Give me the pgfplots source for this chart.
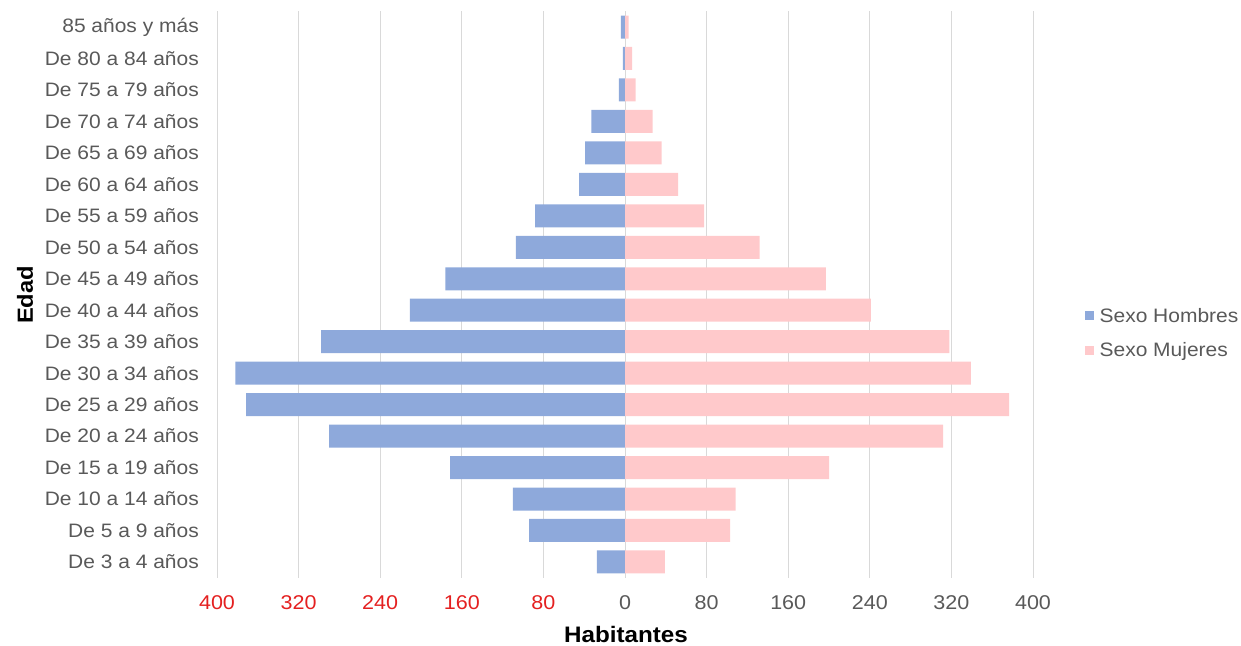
\documentclass[border=0pt]{standalone}
\usepackage{pgfplots}
\pgfplotsset{compat=1.18}
\usepackage{fontspec}
\setmainfont{Liberation Sans}[FakeStretch=1.08]
\definecolor{hombres}{RGB}{142,169,219}
\definecolor{mujeres}{RGB}{255,201,203}
\definecolor{txtgrey}{RGB}{89,89,89}
\definecolor{gridgrey}{RGB}{217,217,217}
\definecolor{negred}{RGB}{228,32,32}
\begin{document}
\begin{tikzpicture}
\path[use as bounding box] (0,0) rectangle (1241bp,646bp);
\begin{axis}[
  at={(217bp,68.3bp)}, anchor=south west,
  scale only axis, width=816bp, height=566.4bp,
  xmin=-400, xmax=400, ymin=-0.5, ymax=17.5,
  axis line style={draw=none},
  major tick length=0pt,
  xmajorgrids, grid style={gridgrey, line width=1bp},
  xtick={-400,-320,-240,-160,-80,0,80,160,240,320,400},
  xticklabels={\textcolor{negred}{400},\textcolor{negred}{320},\textcolor{negred}{240},\textcolor{negred}{160},\textcolor{negred}{80},0,80,160,240,320,400},
  xticklabel style={font=\fontsize{20}{24}\selectfont, text=txtgrey, anchor=center, yshift=-25bp},
  ytick={0,...,17},
  yticklabels={De 3 a 4 años,De 5 a 9 años,De 10 a 14 años,De 15 a 19 años,De 20 a 24 años,De 25 a 29 años,De 30 a 34 años,De 35 a 39 años,De 40 a 44 años,De 45 a 49 años,De 50 a 54 años,De 55 a 59 años,De 60 a 64 años,De 65 a 69 años,De 70 a 74 años,De 75 a 79 años,De 80 a 84 años,85 años y más},
  yticklabel style={font=\fontsize{19.5}{23}\selectfont, text=txtgrey, anchor=east, inner sep=0pt, xshift=-18bp},
  legend style={at={(1.063,0.432)}, anchor=west, draw=none, fill=none,
    font=\fontsize{19.5}{23}\selectfont, text=txtgrey, row sep=15bp, inner sep=0pt},
  legend cell align=left,
  legend image code/.code={\fill[#1,draw=none] (0bp,-4.5bp) rectangle (9bp,4.5bp); \path (13bp,0bp);},
]
\addplot[xbar, bar width=23bp, bar shift=0pt, fill=hombres, draw=none] coordinates {
(-27.5,0) (-94,1) (-110,2) (-171.5,3) (-290,4) (-371.5,5) (-382,6) (-298,7)
(-211,8) (-176,9) (-107,10) (-88,11) (-45,12) (-39,13) (-33,14) (-6,15) (-2,16) (-4,17)};
\addlegendentry{Sexo Hombres}
\addplot[xbar, bar width=23bp, bar shift=0pt, fill=mujeres, draw=none] coordinates {
(39,0) (103,1) (108.5,2) (200,3) (312,4) (376.5,5) (339,6) (318,7)
(241,8) (197,9) (132,10) (77.5,11) (52,12) (36,13) (27,14) (10.5,15) (7,16) (3.6,17)};
\addlegendentry{Sexo Mujeres}
\end{axis}
\node[font=\bfseries\fontsize{22.5}{26}\selectfont, text=black] at (626bp,12bp) {Habitantes};
\node[font=\bfseries\fontsize{22}{26}\selectfont, text=black, rotate=90] at (25bp,351bp) {Edad};
\end{tikzpicture}
\end{document}
